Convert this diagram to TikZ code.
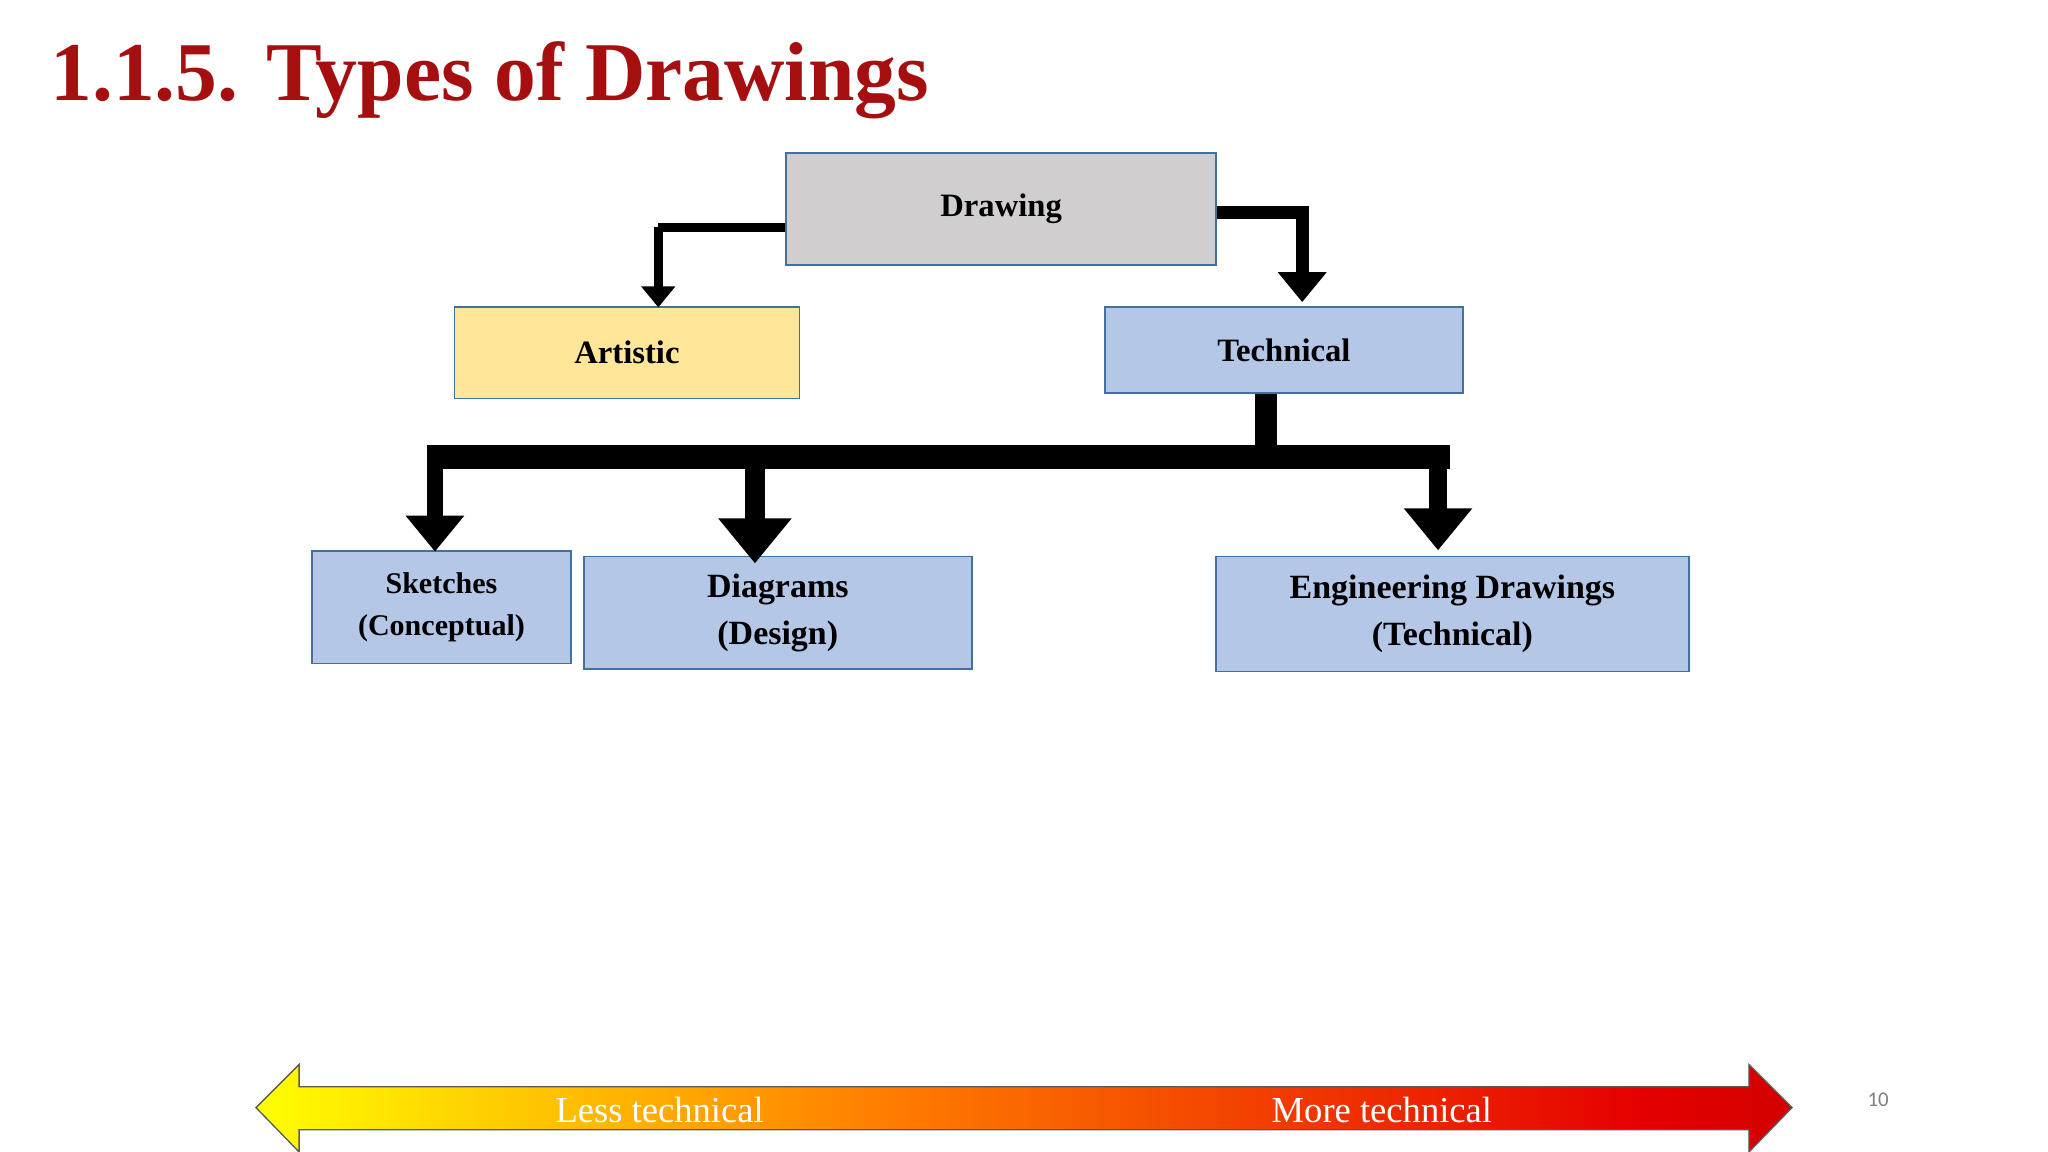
\documentclass[tikz,border=0pt]{standalone}
\usepackage{fontspec}
\setmainfont{Liberation Serif}
\newfontfamily\pgnumfont{Carlito}
\usetikzlibrary{arrows.meta}
\definecolor{tred}{HTML}{A50F0F}
\definecolor{bord}{HTML}{41719C}
\definecolor{gr}{HTML}{D0CECE}
\definecolor{yl}{HTML}{FFE699}
\definecolor{bl}{HTML}{B4C7E7}
\pgfdeclarehorizontalshading{techshade}{100bp}{color(0bp)=(yellow); color(25bp)=(yellow); color(45bp)=(orange); color(70bp)=(red!90!black); color(90bp)=(red!60!black); color(100bp)=(red!40!black)}
\begin{document}
\begin{tikzpicture}[x=1pt,y=-1pt,
  box/.style={draw=bord,line width=1.3pt,font=\bfseries\fontsize{25}{29}\selectfont,align=center,inner sep=0pt},
  conn/.style={line width=#1,-{Triangle[width=3.6*#1,length=2.3*#1]}},
  seg/.style={line width=#1}]
\useasboundingbox[fill=white] (0,0) rectangle (1568,882);
\node[anchor=base west,text=tred,font=\bfseries\fontsize{64}{70}\selectfont] (title) at (35,77) {1.1.5. Types of Drawings};
\node[box,fill=gr,minimum width=329,minimum height=86] (dr) at (766.5,160) {Drawing};
\node[box,fill=yl,minimum width=264,minimum height=70] (ar) at (480,270) {Artistic};
\node[box,fill=bl,minimum width=274,minimum height=66] (te) at (983,268) {Technical};
\node[box,fill=bl,minimum width=198,minimum height=86,font=\bfseries\fontsize{23}{32}\selectfont] (sk) at (338,465) {Sketches\\(Conceptual)};
\node[box,fill=bl,minimum width=297,minimum height=86,font=\bfseries\fontsize{26}{36}\selectfont] (di) at (595.5,469) {Diagrams\\(Design)};
\node[box,fill=bl,minimum width=362,minimum height=88,font=\bfseries\fontsize{26}{36}\selectfont] (en) at (1112,470) {Engineering Drawings\\(Technical)};
\coordinate (a1) at (504,174);
\coordinate (b1) at (997,163);
\coordinate (hb) at (969,350);
\coordinate (hl) at (327,350);
\coordinate (hr) at (1110,350);
\draw[seg=7pt] (dr.west|-a1) -- (a1);
\draw[conn=7pt] (a1) -- ([yshift=-1pt]ar.north-|a1);
\draw[seg=10pt] (dr.east|-b1) -- ([xshift=5pt]b1);
\draw[conn=10pt] (b1) -- ([yshift=3pt]te.north-|b1);
\draw[seg=17pt] (te.south-|hb) -- (hb);
\draw[line width=18pt] (hl) -- (hr);
\draw[conn=12pt] (333,342) -- ([yshift=-1pt]sk.north-|333,0);
\draw[conn=15pt] (578,342) -- ([yshift=-6pt]di.north-|578,0);
\draw[conn=14pt] (1101,342) -- ([yshift=4pt]en.north-|1101,0);
\shade[shading=techshade,draw=gray!70!black,line width=1pt]
 (196,848) -- (229,815) -- (229,832) -- (1339,832) -- (1339,815) -- (1372,848) -- (1339,882) -- (1339,865) -- (229,865) -- (229,882) -- cycle;
\node[text=white,font=\fontsize{28}{30}\selectfont] (lt) at (505,850) {Less technical};
\node[text=white,font=\fontsize{28}{30}\selectfont] (mt) at (1058,850) {More technical};
\node[text=gray,font=\pgnumfont\fontsize{16}{18}\selectfont] (pg) at (1438,842) {10};
\end{tikzpicture}
\end{document}
